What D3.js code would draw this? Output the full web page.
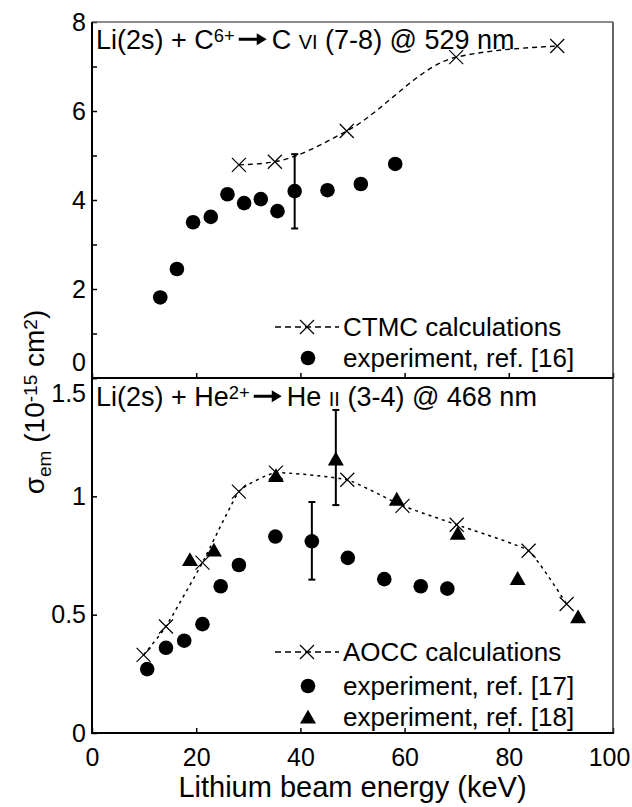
<!DOCTYPE html>
<html>
<head>
<meta charset="utf-8">
<script src="https://cdn.jsdelivr.net/npm/d3@7"></script>
<style>
body { margin: 0; background: #fff; }
svg text { font-family: "Liberation Sans", Arial, sans-serif; fill: #000; white-space: pre; }
</style>
</head>
<body>
<svg id="chart" width="632" height="807"></svg>
<script>
// upper panel: Li(2s) + C6+
var ctmcEnergy = [28.2, 35.1, 48.9, 69.9, 89.3];
var ctmcSigma = [4.79, 4.86, 5.55, 7.21, 7.46];
var exp16Energy = [13.1, 16.3, 19.4, 22.8, 26.0, 29.2, 32.4, 35.6, 38.9, 45.2, 51.6, 58.2];
var exp16Sigma = [1.81, 2.45, 3.50, 3.62, 4.13, 3.93, 4.02, 3.75, 4.20, 4.22, 4.36, 4.81];
var err16Energy = [38.9];
var err16Low = [3.36];
var err16High = [5.03];

// lower panel: Li(2s) + He2+
var aoccEnergy = [9.9, 14.2, 21.2, 28.2, 35.3, 49.0, 59.6, 70.0, 83.8, 91.1];
var aoccSigma = [0.33, 0.45, 0.72, 1.02, 1.10, 1.07, 0.96, 0.88, 0.77, 0.545];
var exp17Energy = [10.6, 14.2, 17.7, 21.2, 24.7, 28.2, 35.2, 42.2, 49.1, 56.1, 63.1, 68.2];
var exp17Sigma = [0.27, 0.36, 0.39, 0.46, 0.62, 0.71, 0.83, 0.81, 0.74, 0.65, 0.62, 0.61];
var exp18Energy = [18.8, 23.4, 35.3, 46.8, 58.5, 70.2, 81.7, 93.3];
var exp18Sigma = [0.725, 0.765, 1.08, 1.15, 0.98, 0.836, 0.645, 0.483];
var errLowEnergy = [42.2, 46.8];
var errLowLow = [0.648, 0.963];
var errLowHigh = [0.976, 1.365];

var xTicks = [0, 20, 40, 60, 80, 100];
var yTopTicks = [0, 1, 2, 3, 4, 5, 6, 7, 8];
var yBotTicks = [0, 0.5, 1, 1.5];

var left = 92, right = 613;
var svg = d3.select("#chart");

var x = d3.scaleLinear().domain([0, 100]).range([left, right]);
var yTop = d3.scaleLinear().domain([0, 8]).range([378, 22]);
var yBot = d3.scaleLinear().domain([0, 1.5]).range([733, 378]);

function zip(a, b) {
    return a.map(function (d, i) { return {x: d, y: b[i]}; });
}

function richText(sel, parts, size) {
    var t = sel.append("text").attr("font-size", size);
    var shift = 0;
    parts.forEach(function (p) {
        var s = p.sup ? -0.26 * size : p.sub ? 0.26 * size : 0;
        var fs = (p.sup || p.sub) ? 0.68 * size : p.small ? 0.74 * size : size;
        t.append("tspan")
            .attr("dy", s - shift)
            .attr("font-size", fs)
            .text(p.t);
        shift = s;
    });
    return t;
}

// title with a drawn arrow in the middle
function arrowTitle(x0, y0, before, after, size) {
    var t1 = richText(svg.append("g").attr("transform", "translate(" + x0 + "," + y0 + ")"), before, size);
    var w = t1.node().getComputedTextLength();
    var ax = x0 + w + 4, ay = y0 - 0.36 * size;
    svg.append("path")
        .attr("d", "M" + ax + "," + (ay - 1.5) + "h18v-4.5l10,6l-10,6v-4.5h-18z")
        .attr("fill", "#000");
    richText(svg.append("g").attr("transform", "translate(" + (ax + 33) + "," + y0 + ")"), after, size);
}

function styleAxis(g) {
    g.select(".domain").remove();
    g.attr("font-size", 25).attr("font-family", "Liberation Sans, Arial, sans-serif");
    g.selectAll(".tick line").attr("stroke", "#000").attr("stroke-width", 1.5);
}

// axes
svg.append("g")
    .attr("transform", "translate(" + left + ",0)")
    .call(d3.axisLeft(yTop).tickValues(yTopTicks).tickSize(-5).tickPadding(6)
        .tickFormat(function (d) { return d % 2 === 0 ? d : ""; }))
    .call(styleAxis)
    .selectAll(".tick text")
    .attr("dy", function (d) { return d === 0 ? "-0.3em" : "0.32em"; });

svg.append("g")
    .attr("transform", "translate(" + left + ",0)")
    .call(d3.axisLeft(yBot).tickValues(yBotTicks).tickSize(-5).tickPadding(6)
        .tickFormat(function (d) { return String(d); }))
    .call(styleAxis)
    .selectAll(".tick text")
    .attr("dy", function (d) { return d === 1.5 ? "0.95em" : "0.32em"; });

svg.append("g")
    .attr("transform", "translate(0,378)")
    .call(d3.axisBottom(x).tickValues(xTicks).tickSize(-5).tickFormat(""))
    .call(styleAxis);

svg.append("g")
    .attr("transform", "translate(0,733)")
    .call(d3.axisBottom(x).tickValues(xTicks).tickSize(-5).tickPadding(15))
    .call(styleAxis)
    .selectAll(".tick text")
    .attr("dx", function (d) { return d === 100 ? -4 : 0; });

// frame
svg.append("line").attr("x1", left).attr("x2", right).attr("y1", 22).attr("y2", 22)
    .attr("stroke", "#666").attr("stroke-width", 1.5);
svg.append("line").attr("x1", right).attr("x2", right).attr("y1", 22).attr("y2", 733)
    .attr("stroke", "#333").attr("stroke-width", 1.5);
svg.append("line").attr("x1", left).attr("x2", left).attr("y1", 22).attr("y2", 734)
    .attr("stroke", "#000").attr("stroke-width", 2);
svg.append("line").attr("x1", left).attr("x2", right).attr("y1", 378).attr("y2", 378)
    .attr("stroke", "#000").attr("stroke-width", 2);
svg.append("line").attr("x1", left - 1).attr("x2", right + 1).attr("y1", 733).attr("y2", 733)
    .attr("stroke", "#000").attr("stroke-width", 2);

var crossPath = "M-7,-7L7,7M-7,7L7,-7";
var circleSym = d3.symbol().type(d3.symbolCircle).size(Math.PI * 7.3 * 7.3);
var triSym = d3.symbol().type(d3.symbolTriangle).size(111);

// upper panel
var lineTop = d3.line().x(function (d) { return x(d.x); }).y(function (d) { return yTop(d.y); })
    .curve(d3.curveMonotoneX);
svg.append("path").datum(zip(ctmcEnergy, ctmcSigma))
    .attr("d", lineTop).attr("fill", "none").attr("stroke", "#000")
    .attr("stroke-width", 1.4).attr("stroke-dasharray", "5,4");

svg.selectAll(".ctmc").data(zip(ctmcEnergy, ctmcSigma)).enter().append("path")
    .attr("class", "ctmc")
    .attr("transform", function (d) { return "translate(" + x(d.x) + "," + yTop(d.y) + ")"; })
    .attr("d", crossPath).attr("stroke", "#000").attr("stroke-width", 1.2);

err16Energy.forEach(function (e, i) {
    var g = svg.append("g").attr("stroke", "#000").attr("stroke-width", 2);
    g.append("line").attr("x1", x(e)).attr("x2", x(e)).attr("y1", yTop(err16Low[i])).attr("y2", yTop(err16High[i]));
    g.append("line").attr("x1", x(e) - 3.5).attr("x2", x(e) + 3.5).attr("y1", yTop(err16Low[i])).attr("y2", yTop(err16Low[i]));
    g.append("line").attr("x1", x(e) - 3.5).attr("x2", x(e) + 3.5).attr("y1", yTop(err16High[i])).attr("y2", yTop(err16High[i]));
});

svg.selectAll(".exp16").data(zip(exp16Energy, exp16Sigma)).enter().append("path")
    .attr("class", "exp16")
    .attr("transform", function (d) { return "translate(" + x(d.x) + "," + yTop(d.y) + ")"; })
    .attr("d", circleSym).attr("fill", "#000");

// lower panel
var lineBot = d3.line().x(function (d) { return x(d.x); }).y(function (d) { return yBot(d.y); })
    .curve(d3.curveCardinal.tension(0.6));
svg.append("path").datum(zip(aoccEnergy, aoccSigma))
    .attr("d", lineBot).attr("fill", "none").attr("stroke", "#000")
    .attr("stroke-width", 1.5).attr("stroke-dasharray", "3,4");

svg.selectAll(".aocc").data(zip(aoccEnergy, aoccSigma)).enter().append("path")
    .attr("class", "aocc")
    .attr("transform", function (d) { return "translate(" + x(d.x) + "," + yBot(d.y) + ")"; })
    .attr("d", crossPath).attr("stroke", "#000").attr("stroke-width", 1.2);

errLowEnergy.forEach(function (e, i) {
    var g = svg.append("g").attr("stroke", "#000").attr("stroke-width", 2);
    g.append("line").attr("x1", x(e)).attr("x2", x(e)).attr("y1", yBot(errLowLow[i])).attr("y2", yBot(errLowHigh[i]));
    g.append("line").attr("x1", x(e) - 3.5).attr("x2", x(e) + 3.5).attr("y1", yBot(errLowLow[i])).attr("y2", yBot(errLowLow[i]));
    g.append("line").attr("x1", x(e) - 3.5).attr("x2", x(e) + 3.5).attr("y1", yBot(errLowHigh[i])).attr("y2", yBot(errLowHigh[i]));
});

svg.selectAll(".exp17").data(zip(exp17Energy, exp17Sigma)).enter().append("path")
    .attr("class", "exp17")
    .attr("transform", function (d) { return "translate(" + x(d.x) + "," + yBot(d.y) + ")"; })
    .attr("d", circleSym).attr("fill", "#000");

svg.selectAll(".exp18").data(zip(exp18Energy, exp18Sigma)).enter().append("path")
    .attr("class", "exp18")
    .attr("transform", function (d) { return "translate(" + x(d.x) + "," + yBot(d.y) + ")"; })
    .attr("d", triSym).attr("fill", "#000");

// panel titles
arrowTitle(96, 49, [{t: "Li(2s) + C"}, {t: "6+", sup: true}],
    [{t: "C "}, {t: "VI", small: true}, {t: " (7-8) @ 529 nm"}], 27);
arrowTitle(96, 406, [{t: "Li(2s) + He"}, {t: "2+", sup: true}],
    [{t: "He "}, {t: "II", small: true}, {t: " (3-4) @ 468 nm"}], 27);

// legends
function legendLine(y, dash) {
    svg.append("line").attr("x1", 275).attr("x2", 339).attr("y1", y).attr("y2", y)
        .attr("stroke", "#000").attr("stroke-width", 1.4).attr("stroke-dasharray", dash);
    svg.append("path").attr("transform", "translate(307," + y + ")")
        .attr("d", crossPath).attr("stroke", "#000").attr("stroke-width", 1.2);
}
function legendText(y, txt) {
    svg.append("text").attr("x", 343).attr("y", y).attr("dy", "0.35em")
        .attr("font-size", 26).text(txt);
}

legendLine(327, "6,4");
legendText(327, "CTMC calculations");
svg.append("path").attr("transform", "translate(308,358)").attr("d", circleSym).attr("fill", "#000");
legendText(358, "experiment, ref. [16]");

legendLine(652, "6,4");
legendText(652, "AOCC calculations");
svg.append("path").attr("transform", "translate(308,686)").attr("d", circleSym).attr("fill", "#000");
legendText(686, "experiment, ref. [17]");
svg.append("path").attr("transform", "translate(308,719)").attr("d", triSym).attr("fill", "#000");
legendText(717, "experiment, ref. [18]");

// axis titles
svg.append("text").attr("x", (left + right) / 2).attr("y", 797)
    .attr("text-anchor", "middle").attr("font-size", 29)
    .text("Lithium beam energy (keV)");

richText(svg.append("g").attr("transform", "translate(44,402) rotate(-90)"), [
    {t: "\u03c3"}, {t: "em", sub: true}, {t: " (10"}, {t: "-15", sup: true},
    {t: " cm"}, {t: "2", sup: true}, {t: ")"}
], 28).attr("text-anchor", "middle");
</script>
</body>
</html>
